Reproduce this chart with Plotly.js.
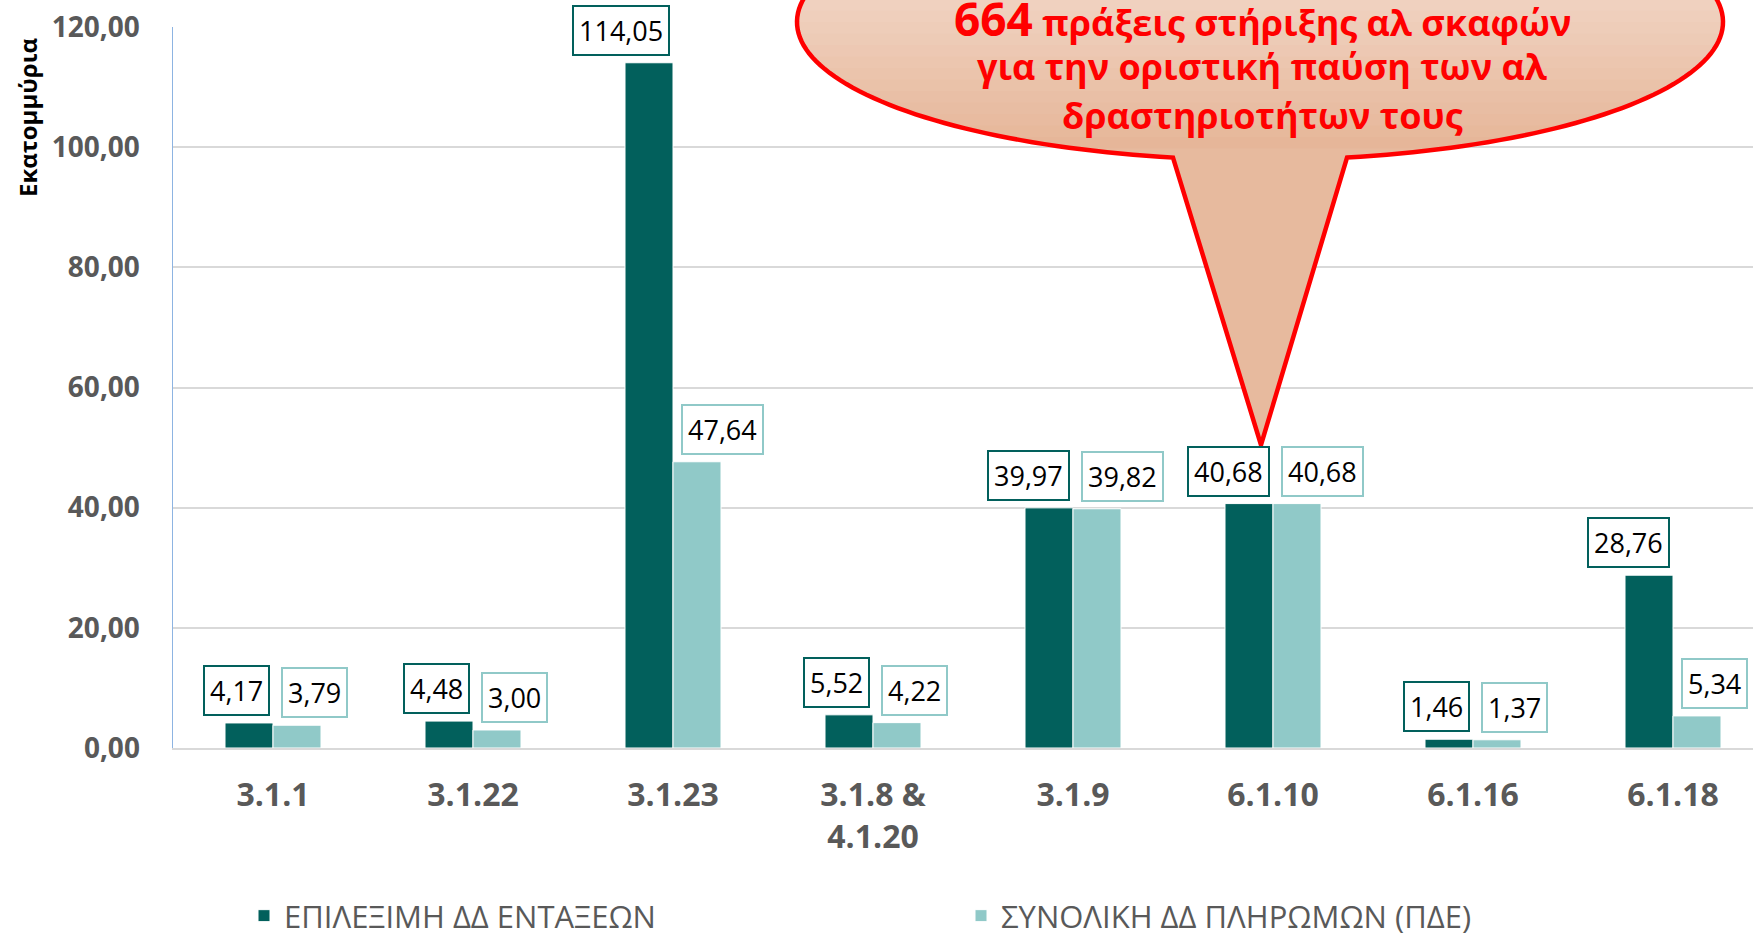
<!DOCTYPE html>
<html>
<head>
<meta charset="utf-8">
<script src="https://cdn.plot.ly/plotly-3.0.1.min.js"></script>
<style>html,body{margin:0;padding:0;background:#fff;overflow:hidden}</style>
</head>
<body>
<div id="chart" style="width:1753px;height:936px"></div>
<script>
const categories = ['3.1.1', '3.1.22', '3.1.23', '3.1.8 & 4.1.20', '3.1.9', '6.1.10', '6.1.16', '6.1.18'];
const tickLabels = ['3.1.1', '3.1.22', '3.1.23', '3.1.8 &<br>4.1.20', '3.1.9', '6.1.10', '6.1.16', '6.1.18'];
const eligible = [4.17, 4.48, 114.05, 5.52, 39.97, 40.68, 1.46, 28.76];
const payments = [3.79, 3.00, 47.64, 4.22, 39.82, 40.68, 1.37, 5.34];
const seriesNames = ['ΕΠΙΛΕΞΙΜΗ ΔΔ ΕΝΤΑΞΕΩΝ', 'ΣΥΝΟΛΙΚΗ ΔΔ ΠΛΗΡΩΜΩΝ (ΠΔΕ)'];
const yTitle = 'Εκατομμύρια';
const calloutLines = ['<span style="font-size:46px">664</span> πράξεις στήριξης αλ σκαφών',
                      'για την οριστική παύση των αλ',
                      'δραστηριοτήτων τους'];

const DARK = '#02605C', LIGHT = '#90C9C8';
const FONT = '"Open Sans", "Noto Sans", sans-serif';

// plot geometry (pixels)
const W = 1753, H = 936, L = 173, T = 27, B = 748;
const PW = W - L, PH = B - T;
const px = x => (x - L) / PW;
const py = y => (B - y) / PH;

const fmt = v => v.toFixed(2).replace('.', ',');

const traces = [
  {type: 'bar', name: seriesNames[0], x: categories, y: eligible,
   marker: {color: DARK, line: {color: '#ffffff', width: 1}}, hoverinfo: 'skip'},
  {type: 'bar', name: seriesNames[1], x: categories, y: payments,
   marker: {color: LIGHT, line: {color: '#ffffff', width: 1}}, hoverinfo: 'skip'}
];

const annotations = [];
categories.forEach((c, i) => {
  annotations.push({x: c, y: eligible[i], xref: 'x', yref: 'y', text: fmt(eligible[i]),
    showarrow: false, xanchor: 'right', yanchor: 'bottom', xshift: -3, yshift: 7,
    font: {family: FONT, size: 27, color: '#000'}, bgcolor: '#fff',
    bordercolor: DARK, borderwidth: 2, borderpad: 5});
  annotations.push({x: c, y: payments[i], xref: 'x', yref: 'y', text: fmt(payments[i]),
    showarrow: false, xanchor: 'left', yanchor: 'bottom', xshift: 7.5, yshift: 7,
    font: {family: FONT, size: 27, color: '#000'}, bgcolor: '#fff',
    bordercolor: LIGHT, borderwidth: 2, borderpad: 5});
});

// y-axis title
annotations.push({xref: 'paper', yref: 'paper', x: px(27), y: py(118), text: '<b>' + yTitle + '</b>',
  textangle: -90, showarrow: false, xanchor: 'center', yanchor: 'middle',
  font: {family: FONT, size: 24, color: '#000'}});

// callout text, one annotation per line
const calloutY = [18, 67, 116];
calloutLines.forEach((t, k) => {
  annotations.push({xref: 'paper', yref: 'paper', x: px(1262), y: py(calloutY[k]),
    text: '<b>' + t + '</b>', showarrow: false, xanchor: 'center', yanchor: 'middle',
    font: {family: FONT, size: 36, color: '#FF0000'}});
});

// callout balloon
const cx = 1260, cy = 22, rx = 463, ry = 138;
const baseDx = 87, tip = [1261, 445];
const thR = Math.acos(baseDx / rx);
const thL = Math.PI - thR;
function ept(th) { return [cx + rx * Math.cos(th), cy + ry * Math.sin(th)]; }
function toPath(pts, close) {
  return pts.map((p, k) => (k ? 'L' : 'M') + px(p[0]).toFixed(5) + ',' + py(p[1]).toFixed(5)).join(' ') + (close ? ' Z' : '');
}
const balloonPts = [];
const N = 200;
for (let k = 0; k <= N; k++) {
  const th = thR - (thR - (thL - 2 * Math.PI)) * k / N;
  balloonPts.push(ept(th));
}
balloonPts.push(tip);
const shapes = [];
const cTop = [249, 234, 226], cBot = [229, 180, 150];
const mix = f => 'rgb(' + cTop.map((v, j) => Math.round(v + (cBot[j] - v) * f)).join(',') + ')';
shapes.push({type: 'path', xref: 'paper', yref: 'paper', path: toPath(balloonPts, true),
  fillcolor: 'rgb(231,186,158)', line: {width: 0}, layer: 'above'});
const yTopE = cy - ry, yBotE = cy + ry;
const NB = 24;
for (let b = 1; b < NB; b++) {
  const yk = yBotE - (yBotE - yTopE) * b / NB;
  const s = (yk - cy) / ry;
  const t1 = Math.asin(Math.max(-1, Math.min(1, s)));
  const pts = [];
  const M = 80;
  for (let k = 0; k <= M; k++) {
    const th = t1 - (t1 - (-Math.PI - t1)) * k / M;
    pts.push(ept(th));
  }
  const f = (yk - yTopE) / (yBotE - yTopE);
  shapes.push({type: 'path', xref: 'paper', yref: 'paper', path: toPath(pts, true),
    fillcolor: mix(f), line: {width: 0}, layer: 'above'});
}
shapes.push({type: 'path', xref: 'paper', yref: 'paper', path: toPath(balloonPts, true),
  fillcolor: 'rgba(0,0,0,0)', line: {color: '#FF0000', width: 4.5}, layer: 'above'});

const layout = {
  width: W, height: H,
  margin: {l: L, r: 0, t: T, b: H - B, autoexpand: false},
  paper_bgcolor: '#fff', plot_bgcolor: '#fff',
  separators: ',.',
  barmode: 'group', bargap: 0.52, bargroupgap: 0,
  showlegend: true,
  legend: {orientation: 'h', xref: 'container', yref: 'container', x: 244 / W, y: 20 / H,
    xanchor: 'left', yanchor: 'middle', entrywidth: 672, entrywidthmode: 'pixels',
    font: {family: FONT, size: 31, color: '#595959'}, bgcolor: 'rgba(0,0,0,0)'},
  xaxis: {type: 'category', range: [-0.5, 7.4], tickvals: categories, ticktext: tickLabels,
    showgrid: false, zeroline: false, showline: true, linecolor: '#D9D9D9', linewidth: 2,
    ticks: '', ticklabelstandoff: 18,
    tickfont: {family: FONT, size: 32, color: '#595959', weight: 'bold'}},
  yaxis: {range: [0, 120], dtick: 20, tickformat: '.2f', showgrid: true, gridcolor: '#D9D9D9', gridwidth: 2,
    zeroline: false, showline: true, linecolor: '#8DB4E2', linewidth: 1.5, ticks: '', ticklabelstandoff: 26,
    tickfont: {family: FONT, size: 28, color: '#595959', weight: 'bold'}},
  annotations: annotations,
  shapes: shapes
};

Plotly.newPlot('chart', traces, layout, {displayModeBar: false, staticPlot: true});
</script>
</body>
</html>
